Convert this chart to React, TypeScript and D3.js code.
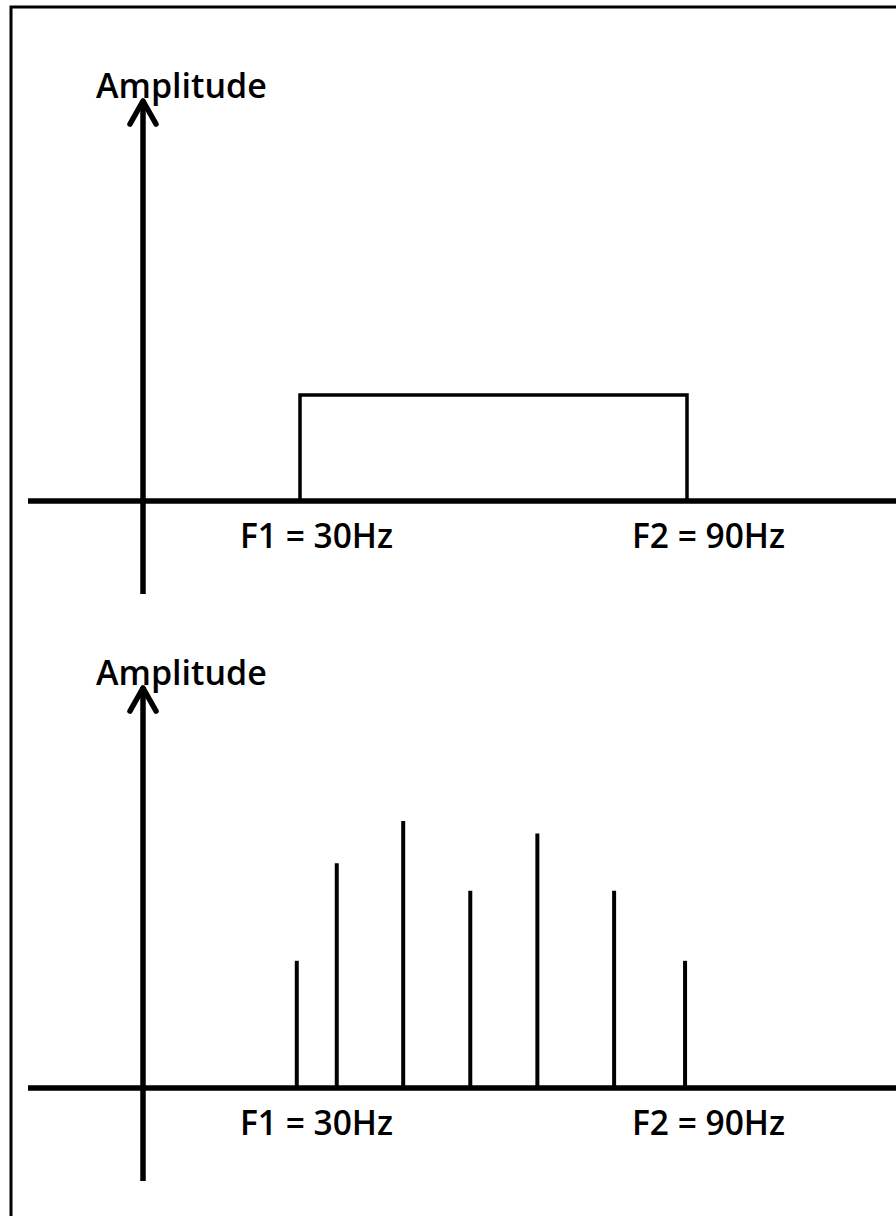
import * as d3 from "d3";

// two panels: the ideal band-pass box and the sampled spectral lines
const bandEdges = [30, 90];
const bandAmplitude = 1;
const edgeLabels = ["F1 = 30Hz", "F2 = 90Hz"];
const lineFreqs = [29.5, 35.7, 46, 56.4, 66.8, 78.7, 89.7];
const lineAmps = [1.2, 2.12, 2.52, 1.86, 2.4, 1.86, 1.2];
const axisTitle = "Amplitude";

const width = 896;
const height = 1216;
const font = "'Open Sans', sans-serif";

const x = d3.scaleLinear().domain([30, 90]).range([300, 687]);
// amplitude -> pixels above the baseline
const amp = d3.scaleLinear().domain([0, 1]).range([0, 106]);

const panels = [501, 1088];

function Axes({ base }: { base: number }) {
  const yAxisX = 143;
  const tip = base - 403;
  return (
    <g stroke="#000" fill="none">
      <line x1={28} x2={width + 10} y1={base} y2={base} strokeWidth={5.5} />
      <line x1={yAxisX} x2={yAxisX} y1={tip + 2} y2={base + 93} strokeWidth={5.5} />
      <path
        d={`M${yAxisX - 13},${tip + 26} L${yAxisX},${tip + 3} L${yAxisX + 13},${tip + 26}`}
        strokeWidth={5.5}
        strokeLinecap="round"
        strokeLinejoin="round"
      />
      <text
        x={96}
        y={tip}
        fontFamily={font}
        fontWeight={600}
        fontSize={34}
        fill="#000"
        stroke="none"
      >
        {axisTitle}
      </text>
      {edgeLabels.map((t, i) => (
        <text
          key={t}
          x={x(bandEdges[i]) + (i === 0 ? -60 : -55)}
          y={base + 47}
          fontFamily={font}
          fontWeight={600}
          fontSize={33.5}
          fill="#000"
          stroke="none"
        >
          {t}
        </text>
      ))}
    </g>
  );
}

export default function App() {
  const top = panels[0];
  const bottom = panels[1];
  const boxPath = d3.line()([
    [x(bandEdges[0]), top],
    [x(bandEdges[0]), top - amp(bandAmplitude)],
    [x(bandEdges[1]), top - amp(bandAmplitude)],
    [x(bandEdges[1]), top],
  ]) as string;

  return (
    <svg
      width={width}
      height={height}
      style={{ position: "absolute", left: 0, top: 0, background: "#fff" }}
    >
      <rect x={11} y={7} width={width + 20} height={height + 20} fill="#fff" stroke="#000" strokeWidth={3} />
      <Axes base={top} />
      <path d={boxPath} fill="none" stroke="#000" strokeWidth={3.5} />
      <Axes base={bottom} />
      <g stroke="#000" strokeWidth={4}>
        {lineFreqs.map((f, i) => (
          <line key={f} x1={x(f)} x2={x(f)} y1={bottom} y2={bottom - amp(lineAmps[i])} />
        ))}
      </g>
    </svg>
  );
}
